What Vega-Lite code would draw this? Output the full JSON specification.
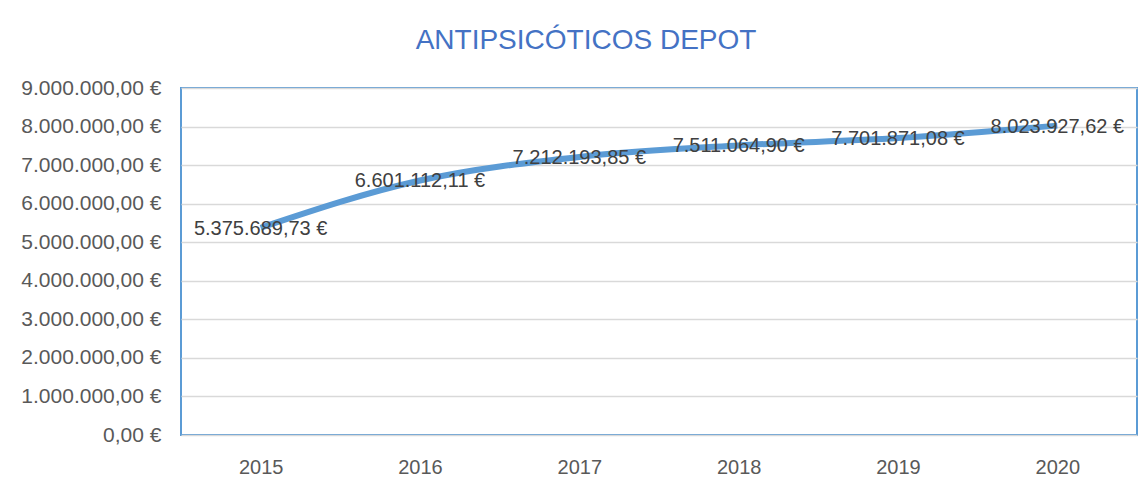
{
  "$schema": "https://vega.github.io/schema/vega-lite/v6.json",
  "width": 956,
  "height": 347,
  "autosize": "none",
  "padding": {"left": 181, "top": 88, "right": 9, "bottom": 55},
  "background": "white",
  "config": {
    "locale": {"number": {"decimal": ",", "thousands": ".", "grouping": [3], "currency": ["", " €"]}},
    "view": {"stroke": "#5B9BD5", "strokeWidth": 2},
    "font": "Liberation Sans"
  },
  "title": {
    "text": "ANTIPSICÓTICOS DEPOT",
    "color": "#4472C4",
    "fontSize": 28,
    "fontWeight": "normal",
    "font": "Liberation Sans",
    "anchor": "middle",
    "dx": -73,
    "offset": 22
  },
  "data": {
    "values": [
      {"year": "2015", "value": 5375689.73},
      {"year": "2016", "value": 6601112.11},
      {"year": "2017", "value": 7212193.85},
      {"year": "2018", "value": 7511064.90},
      {"year": "2019", "value": 7701871.08},
      {"year": "2020", "value": 8023927.62}
    ]
  },
  "encoding": {
    "x": {
      "field": "year", "type": "ordinal",
      "scale": {"paddingInner": 0, "paddingOuter": 0.5},
      "axis": {"title": null, "labelAngle": 0, "ticks": false, "domain": false, "labelFontSize": 20, "labelColor": "#595959", "labelPadding": 22, "grid": false}
    },
    "y": {
      "field": "value", "type": "quantitative",
      "scale": {"domain": [0, 9000000], "nice": false},
      "axis": {"title": null, "format": "$,.2f", "values": [0,1000000,2000000,3000000,4000000,5000000,6000000,7000000,8000000,9000000], "labelOverlap": false, "ticks": false, "domain": false, "labelFontSize": 21, "labelColor": "#595959", "labelPadding": 20, "gridColor": "#D9D9D9", "gridWidth": 1.5}
    }
  },
  "layer": [
    {
      "mark": {"type": "line", "color": "#5B9BD5", "strokeWidth": 6, "interpolate": "monotone"}
    },
    {
      "mark": {"type": "text", "fontSize": 20, "color": "#404040", "align": "center", "baseline": "middle", "dy": 1},
      "encoding": {"text": {"field": "value", "type": "quantitative", "format": "$,.2f"}}
    }
  ]
}
